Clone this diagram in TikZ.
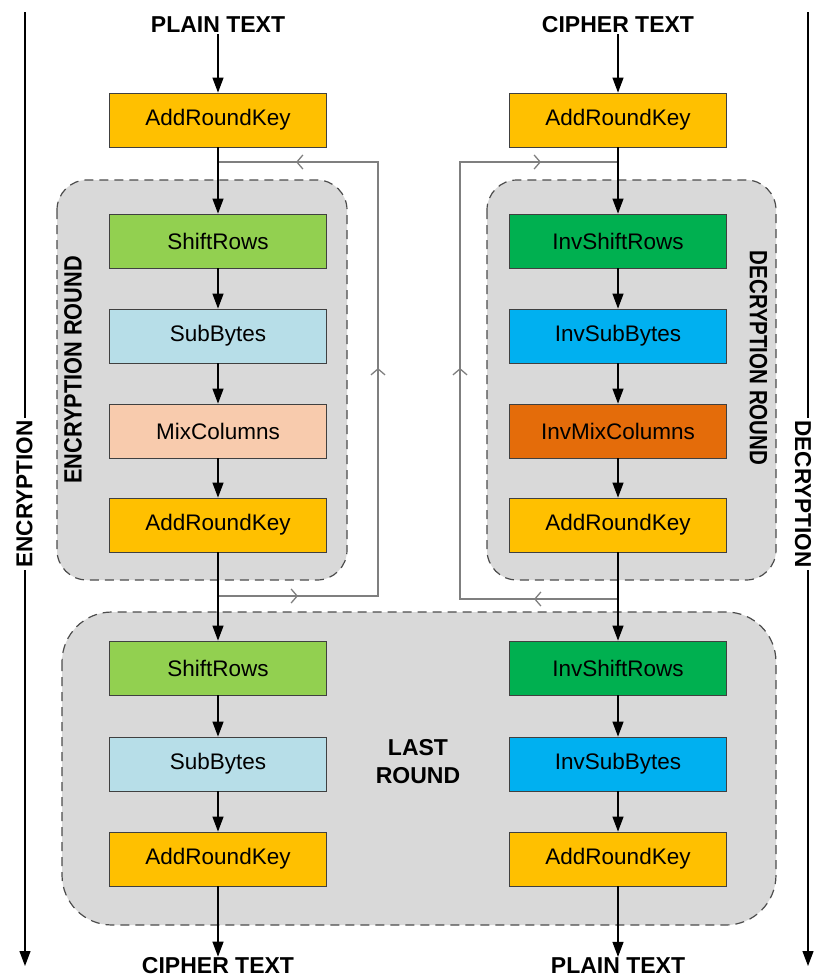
\documentclass[tikz,border=0pt]{standalone}
\usepackage{fontspec}
\setmainfont{Liberation Sans}
\usetikzlibrary{arrows.meta,decorations.markings}
\definecolor{ark}{HTML}{FFC000}
\definecolor{shr}{HTML}{92D050}
\definecolor{sub}{HTML}{B7DEE8}
\definecolor{mix}{HTML}{F8CBAD}
\definecolor{ishr}{HTML}{00B050}
\definecolor{isub}{HTML}{00B0F0}
\definecolor{imix}{HTML}{E46C0A}
\definecolor{grpfill}{HTML}{D9D9D9}
\definecolor{loopc}{HTML}{7F7F7F}
\tikzset{
 blk/.style={draw=black!75, line width=0.8pt, minimum width=217pt, minimum height=54pt, inner sep=0pt, font=\fontsize{22.5}{26}\selectfont},
 arr/.style={-{Triangle[length=15pt,width=11pt]}, line width=1.2pt},
 grp/.style={draw=black!70, dash pattern=on 9pt off 6pt, fill=grpfill, line width=1.2pt},
 ttl/.style={font=\bfseries\fontsize{23}{28}\selectfont, inner sep=1pt},
 roundlbl/.style={font=\bfseries\fontsize{25}{28}\selectfont, inner sep=0pt},
 dirlbl/.style={font=\bfseries\fontsize{23}{28}\selectfont, inner sep=0pt, fill=white},
 chev/.tip={Straight Barb[length=6pt,width=14pt,line width=1.3pt]},
 loopline/.style={draw=loopc, line width=1.6pt, postaction={decorate}},
}
\begin{document}
\begin{tikzpicture}[x=1pt,y=-1pt]
\useasboundingbox (0,0) rectangle (814,977);
% outer encryption / decryption arrows
\coordinate (encT) at (25,12);
\coordinate (encB) at (25,966);
\coordinate (decT) at (808,12);
\coordinate (decB) at (808,966);
\draw[arr] (encT) -- (encB);
\draw[arr] (decT) -- (decB);
\node[dirlbl, rotate=90, inner xsep=3pt] (enclbl) at (24.5,494) {\scalebox{0.98}[1]{ENCRYPTION}};
\node[dirlbl, rotate=-90, inner xsep=3pt] (declbl) at (803,494) {\scalebox{0.98}[1]{DECRYPTION}};
% groups
\draw[grp, rounded corners=30pt] (57,180) rectangle (347,580);
\draw[grp, rounded corners=30pt] (487,180) rectangle (776,580);
\draw[grp, rounded corners=50pt] (62,612) rectangle (776,925);
\node[roundlbl, rotate=90] (erlbl) at (73,370) {\scalebox{0.87}[1]{ENCRYPTION ROUND}};
\node[roundlbl, rotate=-90] (drlbl) at (758.5,358) {\scalebox{0.82}[1]{DECRYPTION ROUND}};
\node[ttl, align=center] (lastlbl) at (418,762) {LAST\\ROUND};
% titles
\node[ttl] (ptin) at (218,25) {PLAIN TEXT};
\node[ttl] (ctin) at (618,25) {CIPHER TEXT};
\node[ttl] (ctout) at (218,966) {CIPHER TEXT};
\node[ttl] (ptout) at (618,966) {PLAIN TEXT};
% encryption boxes
\node[blk, fill=ark] (e0) at (218,120) {AddRoundKey};
\node[blk, fill=shr] (e1) at (218,241) {ShiftRows};
\node[blk, fill=sub] (e2) at (218,336) {SubBytes};
\node[blk, fill=mix] (e3) at (218,431) {MixColumns};
\node[blk, fill=ark] (e4) at (218,525) {AddRoundKey};
\node[blk, fill=shr] (e5) at (218,668) {ShiftRows};
\node[blk, fill=sub] (e6) at (218,764) {SubBytes};
\node[blk, fill=ark] (e7) at (218,859) {AddRoundKey};
% decryption boxes
\node[blk, fill=ark] (d0) at (618,120) {AddRoundKey};
\node[blk, fill=ishr] (d1) at (618,241) {InvShiftRows};
\node[blk, fill=isub] (d2) at (618,336) {InvSubBytes};
\node[blk, fill=imix] (d3) at (618,431) {InvMixColumns};
\node[blk, fill=ark] (d4) at (618,525) {AddRoundKey};
\node[blk, fill=ishr] (d5) at (618,668) {InvShiftRows};
\node[blk, fill=isub] (d6) at (618,764) {InvSubBytes};
\node[blk, fill=ark] (d7) at (618,859) {AddRoundKey};
% loop coordinates
\coordinate (elt) at (218,162);
\coordinate (elb) at (218,596);
\coordinate (dlt) at (618,162);
\coordinate (dlb) at (618,599);
% loops
\draw[loopline, decoration={markings,
   mark=at position 80pt with {\arrow{chev}},
   mark=at position 388pt with {\arrow{chev}},
   mark=at position 676pt with {\arrow{chev}}}]
  (elb) -- (378,596) -- (378,162) -- (elt);
\draw[loopline, decoration={markings,
   mark=at position 84pt with {\arrow{chev}},
   mark=at position 389pt with {\arrow{chev}},
   mark=at position 676pt with {\arrow{chev}}}]
  (dlb) -- (460,599) -- (460,162) -- (dlt);
% connectors
\draw[arr] (ptin) -- (e0);
\draw[arr] (e0) -- (e1);
\draw[arr] (e1) -- (e2);
\draw[arr] (e2) -- (e3);
\draw[arr] (e3) -- (e4);
\draw[arr] (e4) -- (e5);
\draw[arr] (e5) -- (e6);
\draw[arr] (e6) -- (e7);
\draw[arr] (e7) -- (ctout);
\draw[arr] (ctin) -- (d0);
\draw[arr] (d0) -- (d1);
\draw[arr] (d1) -- (d2);
\draw[arr] (d2) -- (d3);
\draw[arr] (d3) -- (d4);
\draw[arr] (d4) -- (d5);
\draw[arr] (d5) -- (d6);
\draw[arr] (d6) -- (d7);
\draw[arr] (d7) -- (ptout);
\end{tikzpicture}
\end{document}
